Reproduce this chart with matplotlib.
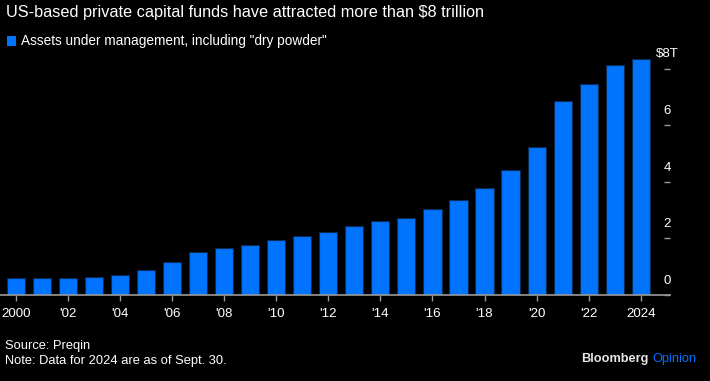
import matplotlib.pyplot as plt
from matplotlib.transforms import blended_transform_factory

plt.rcParams['font.family'] = ['Liberation Sans', 'DejaVu Sans']

# assets under management, $ trillions
years = list(range(2000, 2025))
aum = [0.59, 0.59, 0.59, 0.63, 0.71, 0.88, 1.18, 1.53, 1.67, 1.76,
       1.93, 2.07, 2.23, 2.44, 2.61, 2.72, 3.03, 3.36, 3.77, 4.41,
       5.24, 6.85, 7.46, 8.14, 8.35]

xtick_years = list(range(2000, 2025, 2))
xtick_labels = ["2000", "'02", "'04", "'06", "'08", "'10", "'12",
                "'14", "'16", "'18", "'20", "'22", "2024"]
ytick_vals = [0, 2, 4, 6, 8]
ytick_labels = ["0", "2", "4", "6", "$8T"]

bg = 'black'
blue = '#0073ff'
grey = '#9a9a9a'

fig = plt.figure(figsize=(7.1, 3.81), dpi=100, facecolor=bg)
ax = fig.add_axes([0, 86 / 381, 670 / 710, 240.5 / 381], facecolor=bg)

ax.bar(years, aum, width=0.7, color=blue, edgecolor='#0b2a55', linewidth=0.8, zorder=2)

ax.set_xlim(1999.4, 2025.12)
ax.set_ylim(0, 8.5)

for s in ['top', 'left', 'right']:
    ax.spines[s].set_visible(False)
ax.spines['bottom'].set_color(grey)
ax.spines['bottom'].set_linewidth(1.2)
ax.spines['bottom'].set_zorder(3)

ax.set_xticks(xtick_years)
ax.set_xticklabels(xtick_labels)
ax.tick_params(axis='x', direction='out', length=4, width=1, color=grey,
               labelcolor='white', labelsize=9.6, pad=5.5)

# right-hand y ticks: short dashes with labels sitting above them
ax.yaxis.tick_right()
ax.set_yticks(ytick_vals)
ax.tick_params(axis='y', direction='in', length=4.5, width=1, color=grey,
               labelright=False)
tr = blended_transform_factory(ax.transAxes, ax.transData)
for v, lab in zip(ytick_vals, ytick_labels):
    ax.text(667 / 670, v + 0.5, lab, transform=tr, ha='center', va='center',
            color='white', fontsize=9.5)

fig.text(6 / 710, 1 - 12 / 381, "US-based private capital funds have attracted more than $8 trillion",
         color='white', fontsize=11.7, ha='left', va='center')
fig.patches.append(plt.Rectangle((7 / 710, 1 - 46 / 381), 9 / 710, 10 / 381,
                                 transform=fig.transFigure, facecolor=blue, edgecolor='none'))
fig.text(21 / 710, 1 - 41 / 381, 'Assets under management, including "dry powder"',
         color='white', fontsize=9.8, ha='left', va='center')

fig.text(5 / 710, 1 - 346 / 381, "Source: Preqin", color='white', fontsize=9.3,
         ha='left', va='center')
fig.text(5 / 710, 1 - 361 / 381, "Note: Data for 2024 are as of Sept. 30.", color='white',
         fontsize=9.3, ha='left', va='center')

# brand mark, right-aligned at the bottom corner
op = fig.text(696 / 710, 1 - 359 / 381, "Opinion", color=blue, fontsize=9.2,
              ha='right', va='center')
fig.canvas.draw()
bb = op.get_window_extent().transformed(fig.transFigure.inverted())
fig.text(bb.x0 - 3 / 710, 1 - 359 / 381, "Bloomberg", color='#e6e6e6', fontsize=9.2,
         ha='right', va='center', fontweight='bold')

fig.savefig('out.png', dpi=100, facecolor=bg)
